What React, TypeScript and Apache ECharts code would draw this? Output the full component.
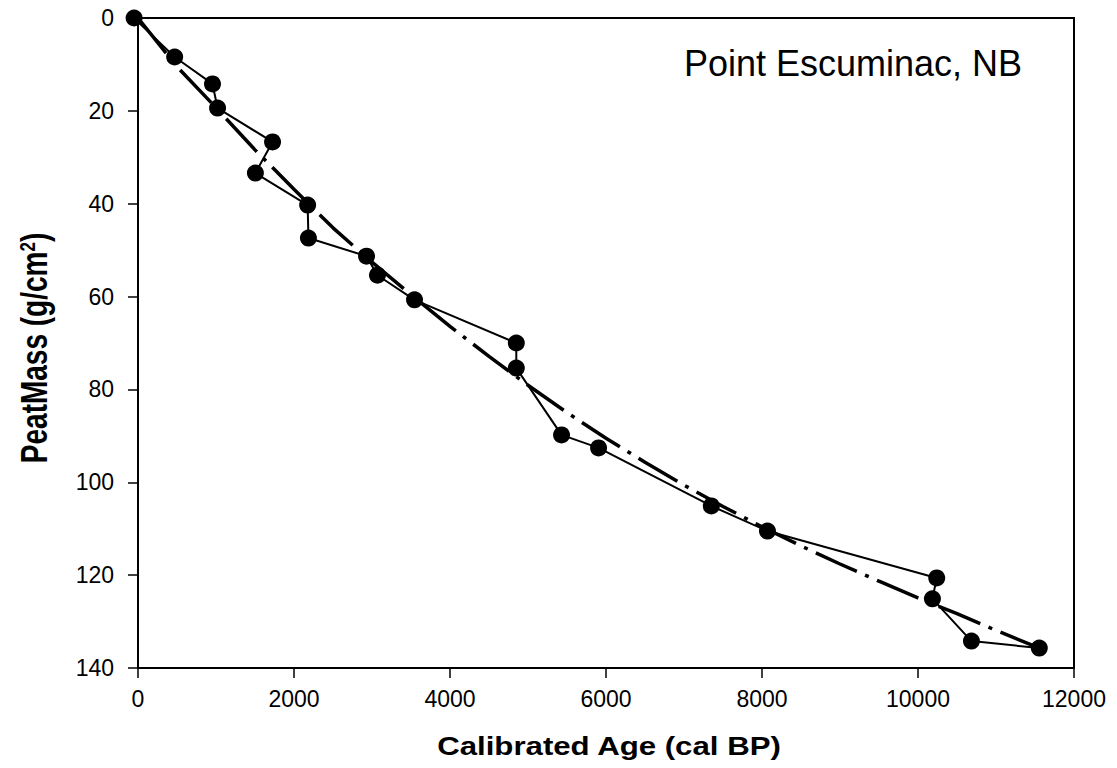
import React, { useEffect, useRef } from "react";
import * as echarts from "echarts";

// Measured peat mass vs calibrated age
const ageValues = [-50, 470, 955, 1020, 1725, 1505, 2175, 2185, 2930, 3070, 3545, 4850, 4850, 5430, 5905, 7350, 8070, 10240, 10185, 10685, 11555];
const massValues = [0, 8.4, 14.2, 19.4, 26.7, 33.4, 40.3, 47.4, 51.3, 55.4, 60.7, 70.0, 75.4, 89.8, 92.6, 105.1, 110.5, 120.6, 125.1, 134.2, 135.7];

// Fitted curve
const fitAge = [0, 500, 1000, 1500, 2000, 2500, 3000, 3500, 4000, 4500, 5000, 5500, 6000, 6500, 7000, 7500, 8000, 8500, 9000, 9500, 10000, 10500, 11000, 11557];
const fitMass = [0, 10.5, 19.3, 28.4, 36.9, 45.2, 52.6, 59.6, 66.4, 72.9, 79.1, 85.0, 90.5, 95.7, 100.6, 105.2, 109.6, 113.7, 117.6, 121.3, 124.9, 128.3, 131.9, 135.7];

const xRange = [0, 12000, 2000];
const yRange = [0, 140, 20];

const titleText = "Point Escuminac, NB";
const xName = "Calibrated Age (cal BP)";
const yName = "PeatMass (g/cm{sup|2})";

export default function App() {
  const ref = useRef<HTMLDivElement>(null);
  useEffect(() => {
    if (!ref.current) return;
    const chart = echarts.init(ref.current, undefined, { renderer: "svg" });
    const font = "Liberation Sans, Arial, sans-serif";
    chart.setOption({
      animation: false,
      backgroundColor: "#ffffff",
      grid: {
        left: 138,
        top: 18,
        width: 936,
        height: 650,
        show: true,
        borderColor: "#000",
        borderWidth: 2,
        backgroundColor: "transparent",
      },
      xAxis: {
        type: "value",
        min: xRange[0],
        max: xRange[1],
        interval: xRange[2],
        axisLine: { show: true, onZero: false, lineStyle: { color: "#000", width: 2 } },
        axisTick: { show: true, length: 10, lineStyle: { color: "#000", width: 1.5 } },
        axisLabel: { color: "#000", fontSize: 23, fontFamily: font, margin: 19, formatter: (v: number) => String(v) },
        splitLine: { show: false },
      },
      yAxis: {
        type: "value",
        inverse: true,
        min: yRange[0],
        max: yRange[1],
        interval: yRange[2],
        axisLine: { show: true, onZero: false, lineStyle: { color: "#000", width: 2 } },
        axisTick: { show: true, length: 10, lineStyle: { color: "#000", width: 1.5 } },
        axisLabel: { color: "#000", fontSize: 23, fontFamily: font, margin: 24, formatter: (v: number) => String(v) },
        splitLine: { show: false },
      },
      graphic: [
        {
          type: "text",
          x: 684,
          y: 63,
          style: { text: titleText, fontSize: 36, fontFamily: font, fill: "#000", textVerticalAlign: "middle", textAlign: "left" },
        },
        {
          type: "text",
          x: 609,
          y: 746,
          scaleX: 1.2,
          style: { text: xName, fontSize: 26, fontWeight: "bold", fontFamily: font, fill: "#000", textVerticalAlign: "middle", textAlign: "center" },
        },
        {
          type: "text",
          x: 34,
          y: 348,
          rotation: Math.PI / 2,
          scaleY: 1.35,
          style: {
            text: yName,
            fontSize: 28,
            fontWeight: "bold",
            fontFamily: font,
            fill: "#000",
            textVerticalAlign: "middle",
            textAlign: "center",
            rich: {
              sup: { fontSize: 17, fontWeight: "bold", fontFamily: font, fill: "#000", verticalAlign: "top", padding: [0, 0, 8, 0] },
            },
          },
        },
      ],
      series: [
        {
          type: "line",
          data: fitAge.map((a, i) => [a, fitMass[i]]),
          showSymbol: false,
          symbol: "none",
          clip: false,
          z: 2,
          lineStyle: { color: "#000", width: 3.5, type: [45, 9, 4, 9] },
        },
        {
          type: "line",
          data: ageValues.map((a, i) => [a, massValues[i]]),
          symbol: "circle",
          symbolSize: 17,
          clip: false,
          z: 3,
          itemStyle: { color: "#000" },
          lineStyle: { color: "#000", width: 2 },
        },
      ],
    });
    return () => chart.dispose();
  }, []);
  return (
    <div
      ref={ref}
      style={{ position: "absolute", left: 0, top: 0, width: 1117, height: 768, background: "#fff" }}
    />
  );
}
